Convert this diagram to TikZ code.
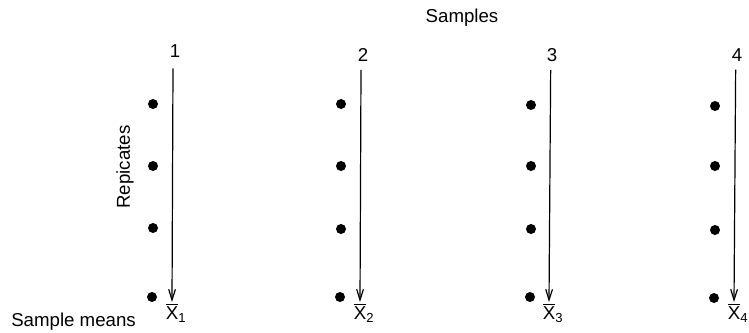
\documentclass[tikz,border=0pt]{standalone}
\usepackage{amsmath}
\usepackage{fontspec}
\setmainfont{Liberation Sans}
\usepackage{tikz}
\usetikzlibrary{arrows.meta,positioning}

\begin{document}
\begin{tikzpicture}[
  x=0.75pt, y=-0.75pt,
  >={Straight Barb[length=8pt,width=5pt]},
  every node/.style={font=\fontsize{14}{16}\selectfont},
  rep/.style={circle, fill=black, inner sep=0pt, minimum size=7.5pt},
  num/.style={inner sep=1pt},
  mean/.style={inner sep=0.5pt, anchor=north},
  arr/.style={->, line width=0.9pt},
]
\useasboundingbox (0,0) rectangle (749,332);

%------------------- Headings -------------------
\node (samples) at (462,18) {Samples};
\node (replbl) [rotate=90] at (125,167) {Repicates};
\node (meanlbl) [anchor=west, inner sep=0pt] at (11,322) {Sample means};

%------------------- Sample 1 -------------------
\node (n1) [num] at (175,51) {1};
\node (r11) [rep] at (153,104) {};
\node (r12) [rep] at (153,166) {};
\node (r13) [rep] at (153,228) {};
\node (r14) [rep] at (152,297) {};
\node (m1) [mean] at (176,302) {$\overline{\text{X}}_{\text{1}}$};

%------------------- Sample 2 -------------------
\node (n2) [num] at (363,55) {2};
\node (r21) [rep] at (341,104) {};
\node (r22) [rep] at (341,166) {};
\node (r23) [rep] at (341,229) {};
\node (r24) [rep] at (340,297) {};
\node (m2) [mean] at (364,302) {$\overline{\text{X}}_{\text{2}}$};

%------------------- Sample 3 -------------------
\node (n3) [num] at (552,55) {3};
\node (r31) [rep] at (531,105) {};
\node (r32) [rep] at (531,166) {};
\node (r33) [rep] at (531,229) {};
\node (r34) [rep] at (530,297) {};
\node (m3) [mean] at (553,302) {$\overline{\text{X}}_{\text{3}}$};

%------------------- Sample 4 -------------------
\node (n4) [num] at (737,55) {4};
\node (r41) [rep] at (715,106) {};
\node (r42) [rep] at (715,166) {};
\node (r43) [rep] at (715,230) {};
\node (r44) [rep] at (714,298) {};
\node (m4) [mean] at (738,302) {$\overline{\text{X}}_{\text{4}}$};

%------------------- Arrows -------------------
\draw[arr] ([xshift=-1.5pt,yshift=-7pt]n1.south) -- ([xshift=-3pt]m1.north);   % sample 1 -> mean
\draw[arr] ([xshift=-1.5pt,yshift=-5pt]n2.south) -- ([xshift=-3pt]m2.north);   % sample 2 -> mean
\draw[arr] ([xshift=-1pt,yshift=-5pt]n3.south) -- ([xshift=-3pt]m3.north);   % sample 3 -> mean
\draw[arr] ([xshift=-1pt,yshift=-5pt]n4.south) -- ([xshift=-3pt]m4.north);   % sample 4 -> mean

\end{tikzpicture}
\end{document}
